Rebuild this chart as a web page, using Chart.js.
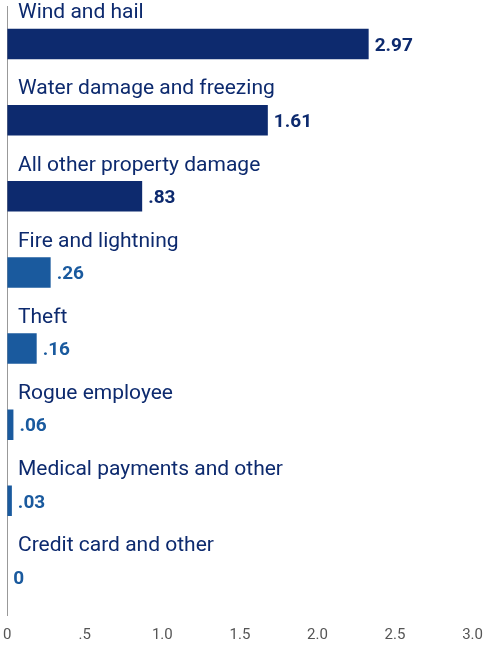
<!DOCTYPE html>
<html>
<head>
<meta charset="utf-8">
<script src="https://cdn.jsdelivr.net/npm/chart.js@4"></script>
<style>
  body { margin: 0; background: #fff; }
  #wrap { width: 486px; height: 647px; }
</style>
</head>
<body>
<div id="wrap"><canvas id="chart"></canvas></div>
<script>
// categories, bar lengths as drawn, and the printed labels
const categories = ['Wind and hail', 'Water damage and freezing', 'All other property damage',
    'Fire and lightning', 'Theft', 'Rogue employee', 'Medical payments and other', 'Credit card and other'];
const barValues = [2.33, 1.68, 0.87, 0.28, 0.19, 0.04, 0.03, 0];
const valueLabels = ['2.97', '1.61', '.83', '.26', '.16', '.06', '.03', '0'];
const tickLabels = ['0', '.5', '1.0', '1.5', '2.0', '2.5', '3.0'];

const navy = '#0d2a6e';
const blue = '#1a5a9e';
const barColors = barValues.map((v, i) => i < 3 ? navy : blue);

const labelPlugin = {
    id: 'rowLabels',
    afterDatasetsDraw(chart) {
        const ctx = chart.ctx;
        const meta = chart.getDatasetMeta(0);
        ctx.save();
        meta.data.forEach((bar, i) => {
            ctx.textBaseline = 'middle';
            ctx.textAlign = 'left';
            ctx.fillStyle = navy;
            ctx.font = '21px Roboto';
            ctx.fillText(categories[i], 18, bar.y - 31);
            ctx.fillStyle = i < 3 ? navy : blue;
            ctx.font = 'bold 19px Roboto';
            ctx.fillText(valueLabels[i], bar.x + 6, bar.y + 2);
        });
        ctx.restore();
    }
};

new Chart(document.getElementById('chart').getContext('2d'), {
    type: 'bar',
    data: {
        labels: categories,
        datasets: [{ data: barValues, backgroundColor: barColors, barPercentage: 0.4, categoryPercentage: 1 }]
    },
    options: {
        indexAxis: 'y',
        responsive: true,
        maintainAspectRatio: false,
        animation: false,
        layout: { padding: { left: 6, right: 13, top: 6, bottom: 0 } },
        plugins: { legend: { display: false }, tooltip: { enabled: false } },
        scales: {
            x: {
                min: 0, max: 3,
                grid: { display: false },
                border: { display: false },
                ticks: {
                    stepSize: 0.5,
                    color: '#555',
                    font: { family: 'Roboto', size: 15 },
                    callback: (v, i) => tickLabels[i]
                }
            },
            y: {
                grid: { display: false },
                border: { display: true, color: '#999' },
                ticks: { display: false },
                afterFit: s => { s.width = 0; }
            }
        }
    },
    plugins: [labelPlugin]
});
</script>
</body>
</html>
